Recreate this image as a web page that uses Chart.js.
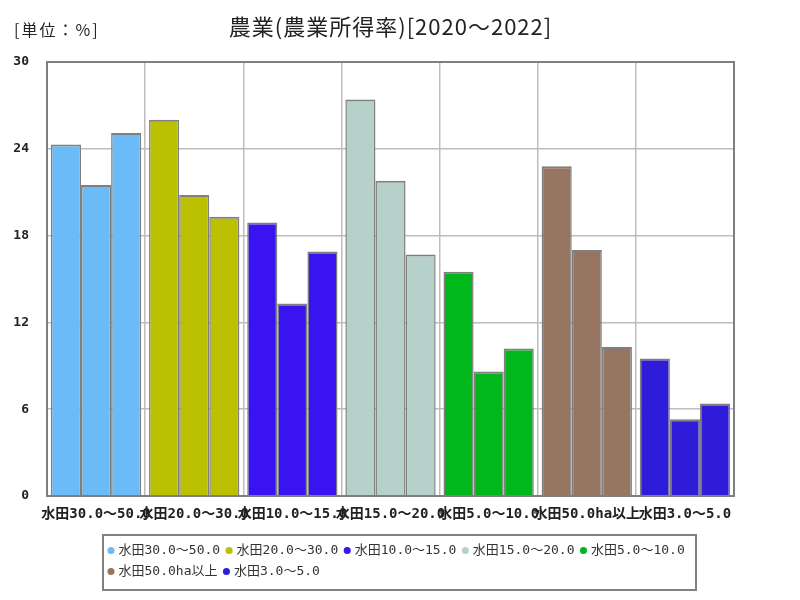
<!DOCTYPE html>
<html>
<head>
<meta charset="utf-8">
<script src="https://cdn.jsdelivr.net/npm/chart.js@4.4.1/dist/chart.umd.min.js"></script>
<style>
  html, body { margin: 0; padding: 0; background: #fff; }
  #wrap { width: 800px; height: 600px; }
</style>
</head>
<body>
<div id="wrap"><canvas id="grafico" width="800" height="600"></canvas></div>
<script>
// ── Dados ─────────────────────────────────
const titulo   = '農業(農業所得率)[2020～2022]';
const unidade  = '[単位：%]';
const categorias = ['水田30.0～50.0', '水田20.0～30.0', '水田10.0～15.0', '水田15.0～20.0',
                    '水田5.0～10.0', '水田50.0ha以上', '水田3.0～5.0'];
const cores = ['#6CBBF9', '#BBC000', '#3A14F0', '#B6D1C9', '#00B81C', '#967562', '#2F1CD9'];
const anos  = ['2020', '2021', '2022'];
const v2020 = [24.3, 26.0, 18.9, 27.4, 15.5, 22.8, 9.5];
const v2021 = [21.5, 20.8, 13.3, 21.8, 8.6, 17.0, 5.3];
const v2022 = [25.1, 19.3, 16.9, 16.7, 10.2, 10.3, 6.4];
const yTicks = [0, 6, 12, 18, 24, 30];

const MONO = '"DejaVu Sans Mono", "Noto Sans CJK JP", monospace';
const CJK  = '"Noto Sans CJK JP", sans-serif';

// ── Moldura, legenda e títulos ────────────
const molduraPlugin = {
  id: 'moldura',
  afterLayout(chart) {
    const lg = chart.legend;
    lg.left = 102; lg.right = 740; lg.width = 638;
  },
  afterDatasetsDraw(chart) {
    const { ctx, chartArea: a } = chart;
    ctx.save();
    ctx.strokeStyle = '#7F7F7F';
    ctx.lineWidth = 2;
    ctx.strokeRect(a.left, a.top, a.right - a.left, a.bottom - a.top);
    ctx.restore();
  },
  afterDraw(chart) {
    const { ctx, chartArea: a } = chart;
    const lg = chart.legend;
    ctx.save();
    ctx.strokeStyle = '#808080';
    ctx.lineWidth = 2;
    ctx.strokeRect(103, lg.top - 1, 593, lg.bottom - lg.top + 3);

    ctx.fillStyle = '#222';
    ctx.textBaseline = 'middle';
    ctx.letterSpacing = '1px';
    ctx.font = '22px ' + CJK;
    ctx.textAlign = 'center';
    ctx.fillText(titulo, (a.left + a.right) / 2, 27);

    ctx.letterSpacing = '2px';
    ctx.font = '16px ' + CJK;
    ctx.textAlign = 'left';
    ctx.fillText(unidade, 14, 30);
    ctx.restore();
  }
};

const mkDataset = (label, data) => ({
  label, data,
  backgroundColor: cores,
  borderColor: '#7F7F7F',
  borderWidth: { top: 2, left: 1.5, right: 1.5, bottom: 0 },
  borderSkipped: false,
  categoryPercentage: 0.92,
  barPercentage: 1.0
});

new Chart(document.getElementById('grafico').getContext('2d'), {
  type: 'bar',
  data: {
    labels: categorias,
    datasets: [
      mkDataset(anos[0], v2020),
      mkDataset(anos[1], v2021),
      mkDataset(anos[2], v2022)
    ]
  },
  options: {
    responsive: false,
    animation: false,
    layout: { padding: { left: 13, right: 66, top: 62, bottom: 12 } },
    plugins: {
      title: { display: false },
      tooltip: { enabled: false },
      legend: {
        position: 'bottom',
        align: 'start',
        onClick: null,
        labels: {
          usePointStyle: true,
          boxWidth: 2,
          boxHeight: 5,
          padding: 8,
          color: '#333',
          font: { size: 13, family: MONO },
          generateLabels: () => categorias.map((c, i) => ({
            text: c, fillStyle: cores[i], strokeStyle: cores[i], lineWidth: 0,
            pointStyle: 'circle', hidden: false, datasetIndex: 0, fontColor: '#333'
          }))
        }
      }
    },
    scales: {
      x: {
        grid: { color: '#BDBDBD', lineWidth: 1.5, drawTicks: false },
        border: { display: false },
        ticks: {
          color: '#222', padding: 10, autoSkip: false, maxRotation: 0, minRotation: 0,
          font: { size: 14, family: MONO, weight: 'bold' }
        },
        afterFit: s => { s.height = 40; s.paddingLeft = 0; s.paddingRight = 0; }
      },
      y: {
        min: 0, max: 30,
        afterBuildTicks: s => { s.ticks = yTicks.map(v => ({ value: v })); },
        grid: { color: '#BDBDBD', lineWidth: 1.5, drawTicks: false },
        border: { display: false },
        ticks: { color: '#222', padding: 18, font: { size: 13, family: MONO, weight: 'bold' } },
        afterFit: s => { s.width = 34; }
      }
    }
  },
  plugins: [molduraPlugin]
});
</script>
</body>
</html>
